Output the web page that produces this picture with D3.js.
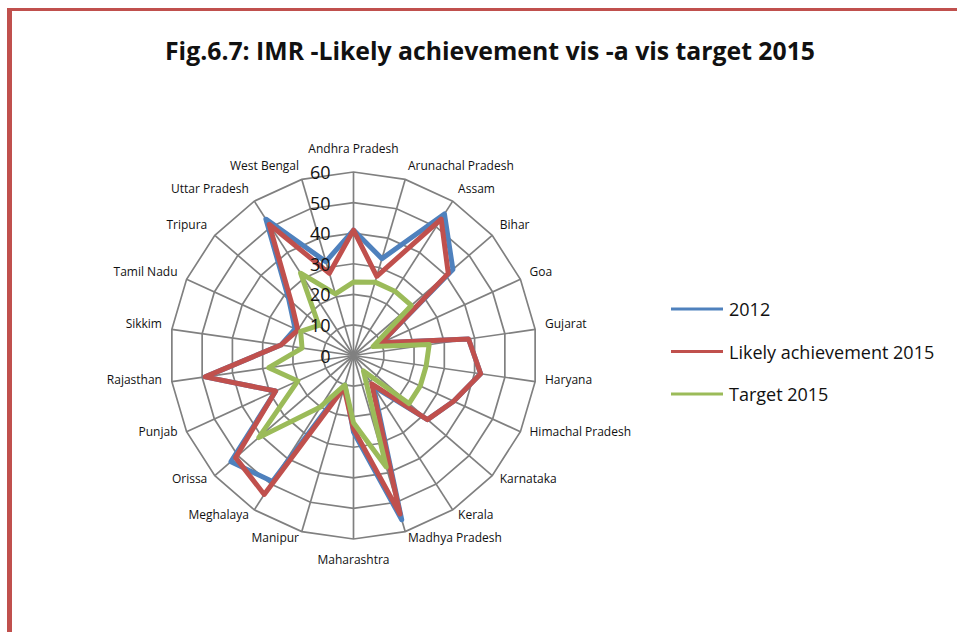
<!DOCTYPE html>
<html>
<head>
<meta charset="utf-8">
<script src="https://cdn.jsdelivr.net/npm/d3@7"></script>
<style>
  body { margin: 0; background: #fff; }
  svg { display: block; }
</style>
</head>
<body>
<div id="radar"></div>
<script>
// Data
const states = ["Andhra Pradesh", "Arunachal Pradesh", "Assam", "Bihar", "Goa", "Gujarat",
  "Haryana", "Himachal Pradesh", "Karnataka", "Kerala", "Madhya Pradesh", "Maharashtra",
  "Manipur", "Meghalaya", "Orissa", "Punjab", "Rajasthan", "Sikkim", "Tamil Nadu",
  "Tripura", "Uttar Pradesh", "West Bengal"];
const imr2012 = [41, 33, 55, 43, 10, 38, 42, 36, 32, 12, 56, 25, 10, 49, 53, 28, 49, 24, 21, 28, 53, 32];
const likely2015 = [41, 27, 53, 41, 10, 38, 42, 36, 32, 11, 54, 24, 11, 54, 51, 28, 49, 24, 20, 27, 51, 28];
const target2015 = [24, 25, 25, 25, 7, 25, 24, 24, 24, 6, 38, 22, 10, 20, 41, 20, 28, 17, 19, 15, 32, 21];
const seriesNames = ["2012", "Likely achievement 2015", "Target 2015"];
const tickValues = [0, 10, 20, 30, 40, 50, 60];

const width = 957, height = 632;
const cx = 353.5, cy = 355.5, radius = 183.5;

const svg = d3.select("#radar")
  .append("svg")
  .attr("width", width)
  .attr("height", height);

// page border (red rule on top and left)
svg.append("rect").attr("x", 7).attr("y", 8).attr("width", width - 7).attr("height", 3).attr("fill", "#c0504d");
svg.append("rect").attr("x", 7).attr("y", 8).attr("width", 5).attr("height", height - 8).attr("fill", "#c0504d");

// title
svg.append("text")
  .attr("x", 490)
  .attr("y", 50)
  .attr("text-anchor", "middle")
  .attr("dominant-baseline", "central")
  .attr("font-family", "'Liberation Sans Narrow', 'Open Sans', sans-serif")
  .attr("font-weight", "bold")
  .attr("font-size", 25)
  .attr("textLength", 650)
  .attr("lengthAdjust", "spacingAndGlyphs")
  .attr("fill", "#111")
  .text("Fig.6.7: IMR -Likely achievement vis -a vis target 2015");

const g = svg.append("g").attr("transform", `translate(${cx},${cy})`);

const r = d3.scaleLinear().domain([0, 60]).range([0, radius]);
const angle = d3.scaleLinear().domain([0, states.length]).range([0, 2 * Math.PI]);
const px = (i, v) => r(v) * Math.sin(angle(i));
const py = (i, v) => -r(v) * Math.cos(angle(i));

// rings
tickValues.filter(t => t > 0).forEach(t => {
  g.append("path")
    .attr("d", d3.line()(states.map((s, i) => [px(i, t), py(i, t)])) + "Z")
    .attr("fill", "none")
    .attr("stroke", "#808080")
    .attr("stroke-width", 1.7);
});

// spokes
g.selectAll(".spoke")
  .data(states)
  .enter()
  .append("line")
  .attr("x1", 0).attr("y1", 0)
  .attr("x2", (d, i) => px(i, 60))
  .attr("y2", (d, i) => py(i, 60))
  .attr("stroke", "#808080")
  .attr("stroke-width", 1.7);

// category labels
g.selectAll(".cat")
  .data(states)
  .enter()
  .append("text")
  .each(function(d, i) {
    const s = Math.sin(angle(i)), c = Math.cos(angle(i));
    const t = d3.select(this);
    const vx = px(i, 60), vy = py(i, 60);
    if (Math.abs(s) < 0.01) {
      t.attr("x", vx).attr("y", vy - c * 22 - 2).attr("text-anchor", "middle");
    } else {
      t.attr("x", vx + s * 10)
        .attr("y", vy - c * 10 - 4)
        .attr("text-anchor", s > 0 ? "start" : "end");
    }
  })
  .attr("dominant-baseline", "central")
  .attr("font-family", "'Open Sans', sans-serif")
  .attr("font-size", 12)
  .attr("fill", "#111")
  .text(d => d);

// series
const color = d3.scaleOrdinal()
  .domain(seriesNames)
  .range(["#4f81bd", "#c0504d", "#9bbb59"]);

const seriesData = [imr2012, likely2015, target2015];

const radial = d3.lineRadial()
  .angle((d, i) => angle(i))
  .radius(d => r(d))
  .curve(d3.curveLinearClosed);

seriesData.forEach((vals, k) => {
  g.append("path")
    .datum(vals)
    .attr("d", radial)
    .attr("fill", "none")
    .attr("stroke", color(seriesNames[k]))
    .attr("stroke-width", 5)
    .attr("stroke-linejoin", "round");
});

// value labels drawn over the lines
g.selectAll(".tick")
  .data(tickValues)
  .enter()
  .append("text")
  .attr("x", -23)
  .attr("y", d => -r(d))
  .attr("text-anchor", "end")
  .attr("dominant-baseline", "central")
  .attr("font-family", "'Open Sans', sans-serif")
  .attr("font-size", 18)
  .attr("fill", "#111")
  .text(d => d);

// legend
const legend = svg.append("g").attr("transform", "translate(671, 309)");
seriesNames.forEach((name, i) => {
  const y = i * 42.5;
  legend.append("line")
    .attr("x1", 0).attr("x2", 52)
    .attr("y1", y).attr("y2", y)
    .attr("stroke", color(name))
    .attr("stroke-width", 3);
  legend.append("text")
    .attr("x", 58)
    .attr("y", y)
    .attr("dominant-baseline", "central")
    .attr("font-family", "'Open Sans', sans-serif")
    .attr("font-size", 18)
    .attr("fill", "#111")
    .text(name);
});
</script>
</body>
</html>
